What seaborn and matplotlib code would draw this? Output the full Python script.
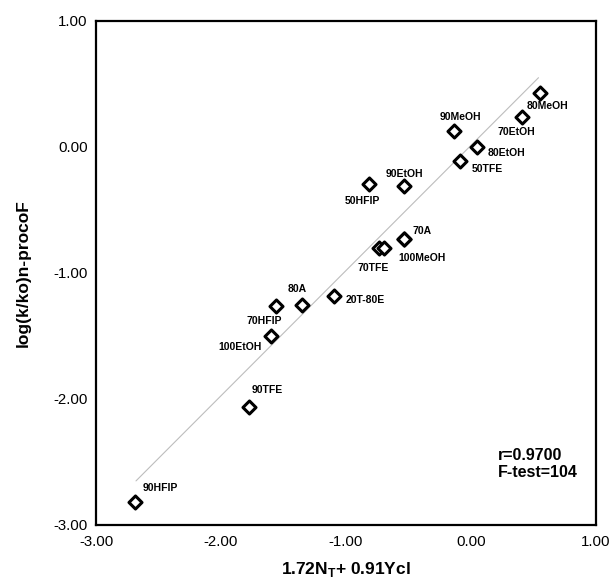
import numpy as np
import matplotlib
matplotlib.use("Agg")
import matplotlib.pyplot as plt
import pandas as pd
import seaborn as sns

# Solvent points
solvents = ["90HFIP", "90TFE", "100EtOH", "70HFIP", "80A", "20T-80E",
            "70TFE", "", "100MeOH", "70A", "50HFIP", "90EtOH",
            "90MeOH", "50TFE", "80EtOH", "70EtOH", "80MeOH"]
x_param = [-2.69, -1.78, -1.60, -1.56, -1.35, -1.10,
           -0.74, -0.70, -0.54, -0.54, -0.82, -0.54,
           -0.14, -0.09, 0.05, 0.41, 0.55]
log_k = [-2.82, -2.06, -1.50, -1.26, -1.25, -1.18,
         -0.80, -0.80, -0.73, -0.73, -0.29, -0.31,
         0.13, -0.11, 0.00, 0.24, 0.43]

# regression line end points
fit_x = [-2.68, 0.54]
fit_y = [-2.65, 0.55]

# label offsets in pixels (dx, dy up) and alignment
label_pos = {
    "90HFIP": (8, 14, "left"),
    "90TFE": (3, 17, "left"),
    "100EtOH": (-9, -11, "right"),
    "70HFIP": (-12, -15, "center"),
    "80A": (-5, 16, "center"),
    "20T-80E": (12, -4, "left"),
    "70TFE": (-5, -20, "center"),
    "100MeOH": (-5, -19, "left"),
    "70A": (9, 8, "left"),
    "50HFIP": (-6, -17, "center"),
    "90EtOH": (1, 12, "center"),
    "90MeOH": (7, 14, "center"),
    "50TFE": (12, -8, "left"),
    "80EtOH": (10, -6, "left"),
    "70EtOH": (-6, -15, "center"),
    "80MeOH": (8, -13, "center"),
}

df = pd.DataFrame({"solvent": solvents, "x": x_param, "y": log_k})

sns.set_style("white")
plt.rcParams["font.family"] = ["Liberation Sans", "DejaVu Sans"]
plt.rcParams["mathtext.fontset"] = "custom"
plt.rcParams["mathtext.rm"] = "Liberation Sans"
plt.rcParams["mathtext.bf"] = "Liberation Sans:bold"
plt.rcParams["text.color"] = "black"
plt.rcParams["axes.labelcolor"] = "black"
plt.rcParams["xtick.color"] = "black"
plt.rcParams["ytick.color"] = "black"

fig = plt.figure(figsize=(6.12, 5.79), dpi=100)
ax = fig.add_axes([96 / 612, 1 - 525 / 579, 500 / 612, 504 / 579])

sns.lineplot(x=fit_x, y=fit_y, ax=ax, color="#bdbdbd", linewidth=0.8)
sns.scatterplot(data=df, x="x", y="y", ax=ax, marker="D", s=44,
                facecolor="white", edgecolor="black", linewidth=2.2, zorder=3)

for name, xv, yv in zip(solvents, x_param, log_k):
    if not name:
        continue
    dx, dy, ha = label_pos[name]
    ax.annotate(name, (xv, yv), xytext=(dx * 0.72, dy * 0.72),
                textcoords="offset points", ha=ha, va="center",
                fontsize=7.5, fontweight="bold")

ax.set_xlim(-3, 1)
ax.set_ylim(-3, 1)
ax.set_xticks(np.arange(-3, 1.01, 1.0))
ax.set_yticks(np.arange(-3, 1.01, 1.0))
ax.set_xticks(np.arange(-2.5, 1, 1.0), minor=True)
ax.set_yticks(np.arange(-2.5, 1, 1.0), minor=True)
ax.xaxis.set_major_formatter(matplotlib.ticker.FormatStrFormatter("%.2f"))
ax.yaxis.set_major_formatter(matplotlib.ticker.FormatStrFormatter("%.2f"))
ax.tick_params(which="major", direction="in", length=12, width=1.6,
               labelsize=10.8, color="black")
ax.tick_params(which="minor", direction="in", length=6.5, width=1.6, color="black")
ax.tick_params(axis="x", which="major", pad=7)
ax.tick_params(axis="y", which="major", pad=6)
for sp in ax.spines.values():
    sp.set_linewidth(1.6)
    sp.set_color("black")

ax.set_xlabel(r"1.72N$_\mathbf{T}$+ 0.91Ycl", fontsize=12.5, fontweight="bold", labelpad=8)
ax.set_ylabel("log(k/ko)n-procoF", fontsize=12.5, fontweight="bold", labelpad=16)

ax.text(0.804, 0.152, "r=0.9700\nF-test=104", transform=ax.transAxes,
        fontsize=11.5, fontweight="bold", ha="left", va="top", linespacing=1.15)

fig.savefig("out.png", dpi=100)
